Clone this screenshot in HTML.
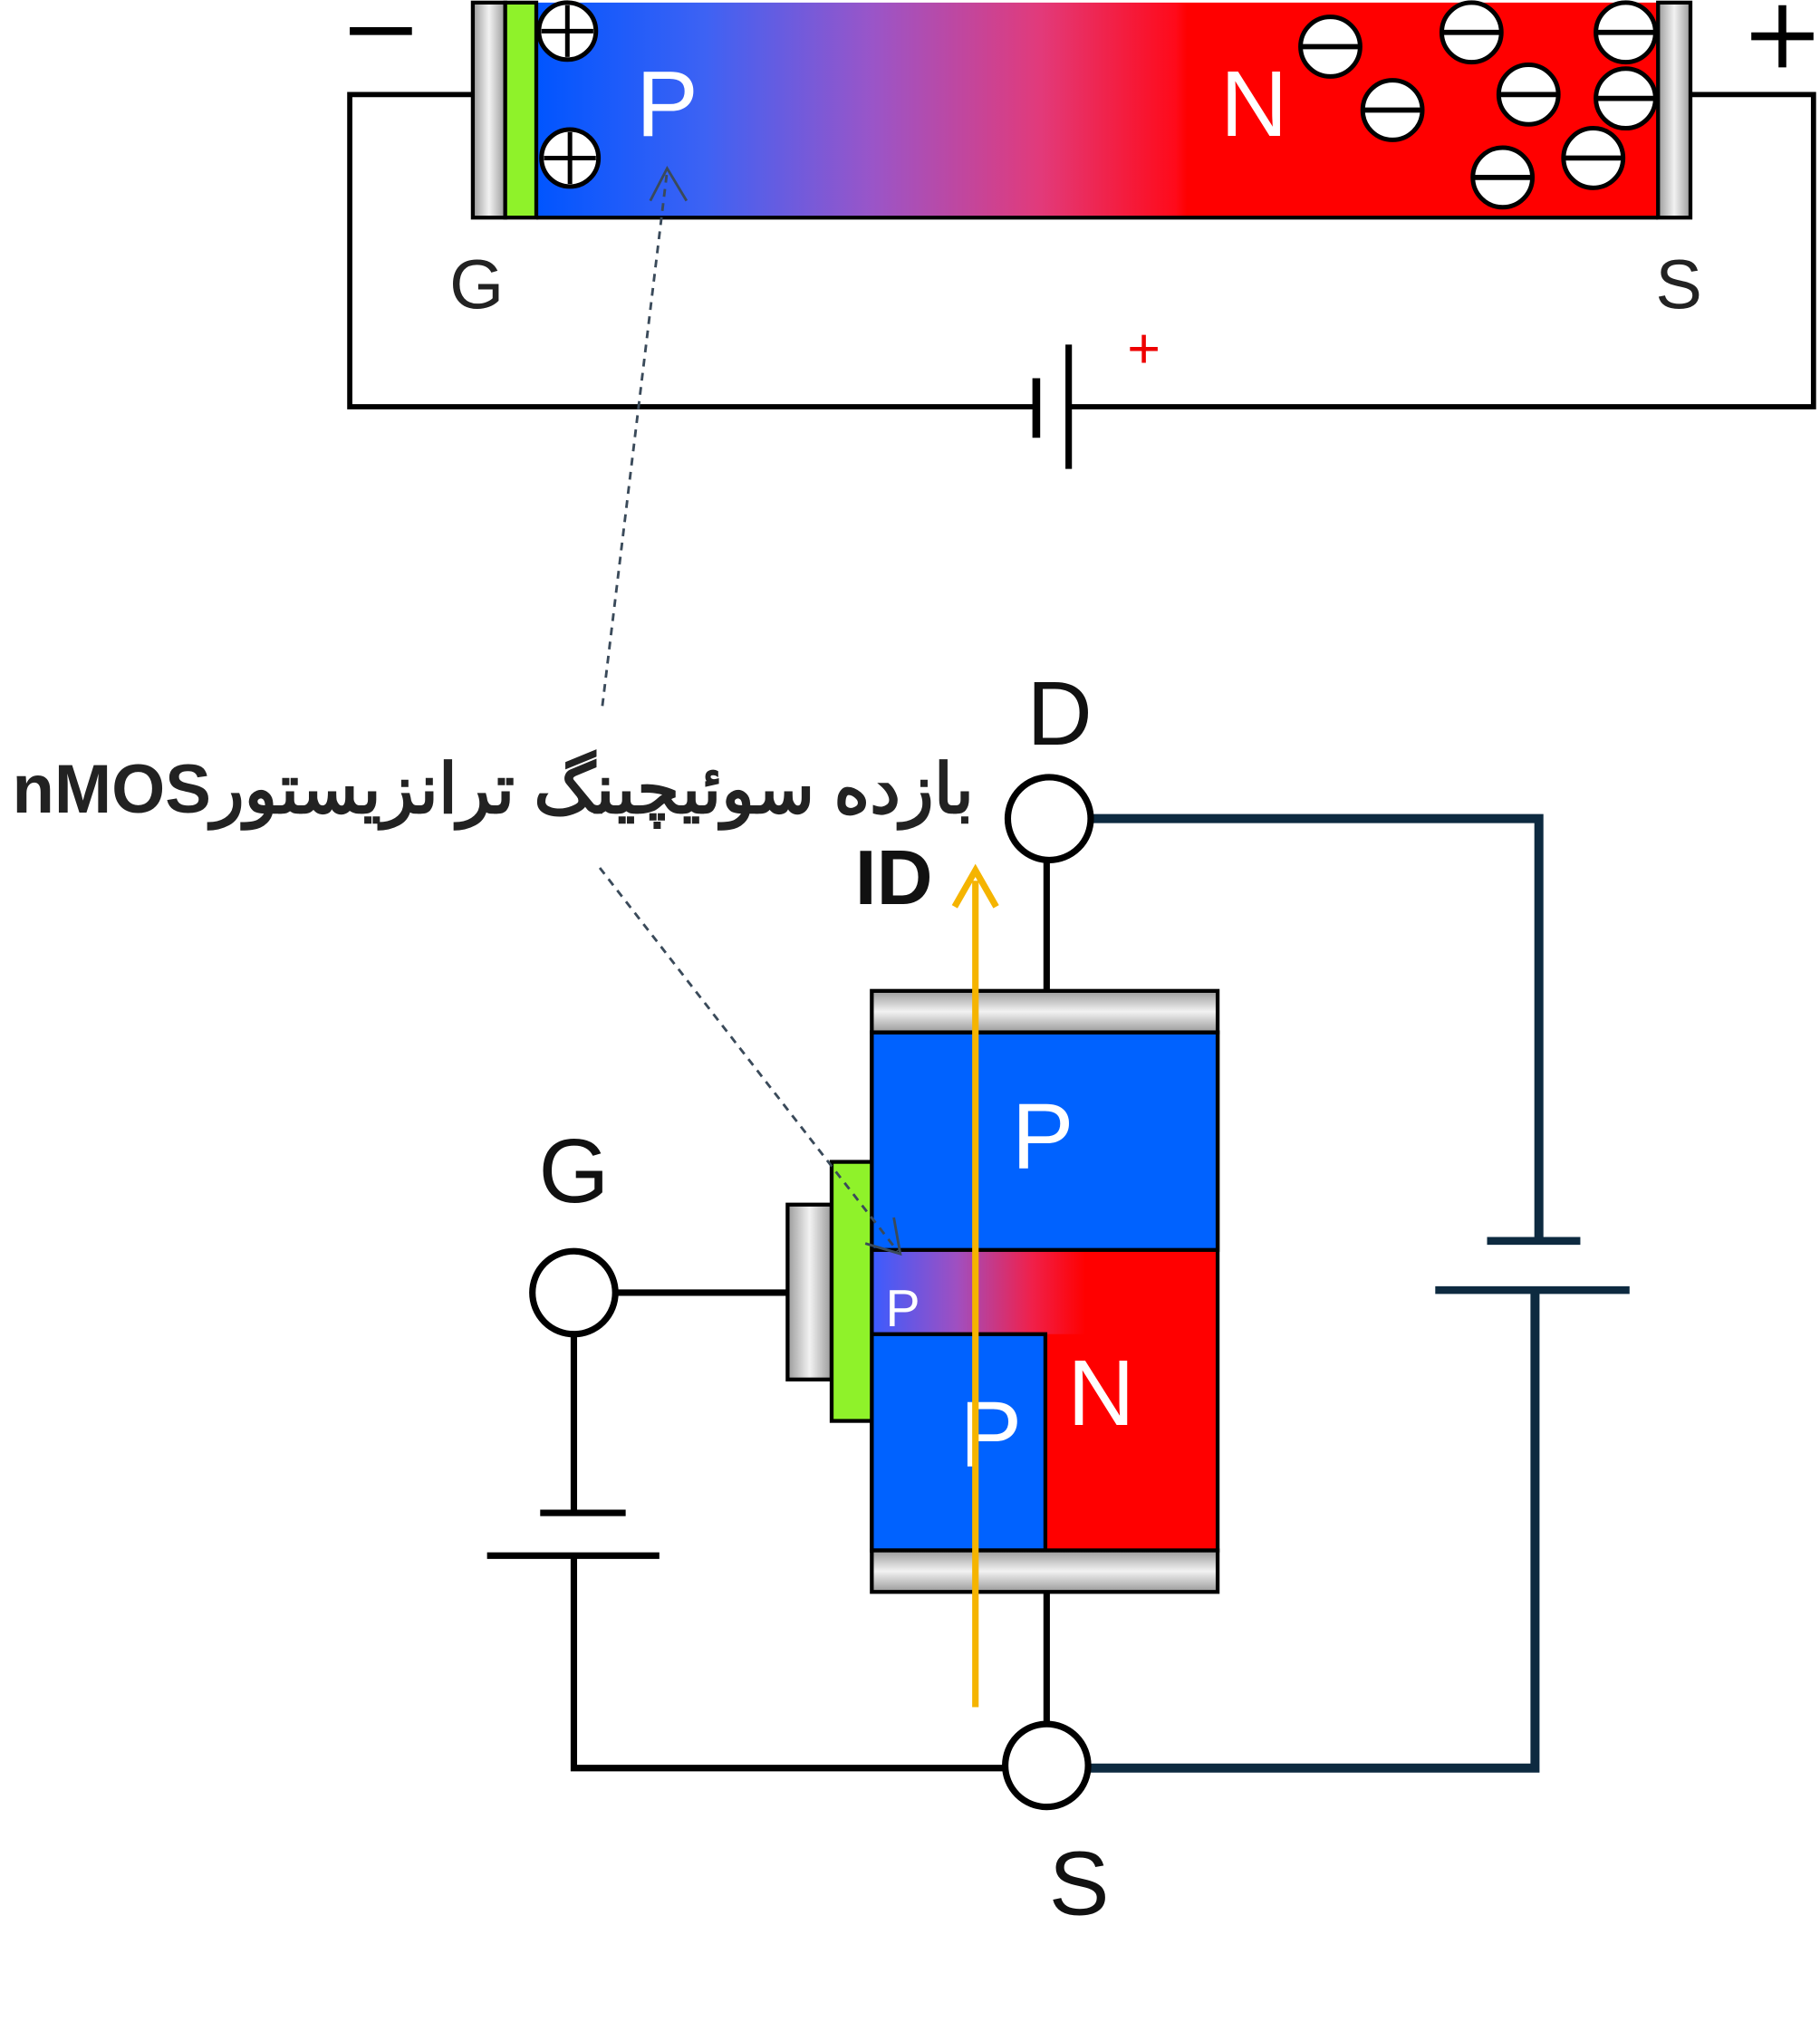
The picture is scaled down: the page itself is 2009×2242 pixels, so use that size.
<!DOCTYPE html>
<html><head><meta charset="utf-8">
<style>
html,body{margin:0;padding:0;background:#fff;}
body{width:2009px;height:2242px;position:relative;overflow:hidden;}
svg{position:absolute;left:0;top:0;}
.title{position:absolute;right:934px;top:826px;font-family:"Liberation Sans","Noto Sans CJK SC",sans-serif;font-weight:bold;font-size:76px;color:#222;white-space:nowrap;direction:rtl;}
</style></head>
<body>
<svg width="2009" height="2242" viewBox="0 0 1405 1568" xmlns="http://www.w3.org/2000/svg" font-family="Liberation Sans, DejaVu Sans, sans-serif">
<defs>
<linearGradient id="gTop" x1="0" x2="1" y1="0" y2="0">
<stop offset="0" stop-color="#0055ff"/>
<stop offset="0.15" stop-color="#3d62f4"/>
<stop offset="0.3" stop-color="#9a55c8"/>
<stop offset="0.45" stop-color="#e23a7a"/>
<stop offset="0.57" stop-color="#ff0a1a"/>
<stop offset="0.58" stop-color="#ff0000"/>
<stop offset="1" stop-color="#ff0000"/>
</linearGradient>
<linearGradient id="gMid" x1="0" x2="1" y1="0" y2="0">
<stop offset="0" stop-color="#3a5cff"/>
<stop offset="0.4" stop-color="#a04fc0"/>
<stop offset="0.75" stop-color="#f0204a"/>
<stop offset="1" stop-color="#ff0000"/>
</linearGradient>
<linearGradient id="gray" x1="0" x2="1" y1="0" y2="0">
<stop offset="0" stop-color="#9a9a9a"/><stop offset="0.5" stop-color="#f2f2f2"/><stop offset="1" stop-color="#9a9a9a"/>
</linearGradient>
<linearGradient id="grayV" x1="0" x2="0" y1="0" y2="1">
<stop offset="0" stop-color="#9a9a9a"/><stop offset="0.5" stop-color="#f2f2f2"/><stop offset="1" stop-color="#9a9a9a"/>
</linearGradient>
</defs>

<!-- TOP -->
<g stroke="#000" stroke-width="4" fill="none">
<polyline points="365,73 270,73 270,314 800,314"/>
<polyline points="825,314 1400,314 1400,73 1305,73"/>
</g>
<line x1="800" y1="292" x2="800" y2="338" stroke="#000" stroke-width="6"/>
<line x1="825" y1="266" x2="825" y2="362" stroke="#000" stroke-width="5"/>
<text x="883" y="284" font-size="44" fill="#e00" text-anchor="middle">+</text>
<rect x="414" y="2" width="866" height="166" fill="url(#gTop)"/>
<rect x="365" y="2" width="25" height="166" fill="url(#gray)" stroke="#000" stroke-width="3"/>
<rect x="390" y="2" width="24" height="166" fill="#8ff22a" stroke="#000" stroke-width="3"/>
<rect x="1280" y="2" width="25" height="166" fill="url(#gray)" stroke="#000" stroke-width="3"/>
<line x1="414" y1="168" x2="1280" y2="168" stroke="#000" stroke-width="3"/>
<line x1="270" y1="24" x2="318" y2="24" stroke="#000" stroke-width="6"/>
<line x1="1352" y1="28" x2="1400" y2="28" stroke="#000" stroke-width="6"/>
<line x1="1376" y1="4" x2="1376" y2="52" stroke="#000" stroke-width="6"/>
<text x="368" y="238" font-size="54" text-anchor="middle" fill="#222">G</text>
<text x="1296" y="238" font-size="54" text-anchor="middle" fill="#222">S</text>
<text x="515" y="105" font-size="72" text-anchor="middle" fill="#fff">P</text>
<text x="968" y="105" font-size="72" text-anchor="middle" fill="#fff">N</text>
<g stroke="#000" stroke-width="3.5" fill="#fff">
<circle cx="438" cy="24" r="22"/><circle cx="440" cy="122" r="22"/>
</g>
<g stroke="#000" stroke-width="3.5">
<line x1="418" y1="24" x2="458" y2="24"/><line x1="438" y1="4" x2="438" y2="44"/>
<line x1="420" y1="122" x2="460" y2="122"/><line x1="440" y1="102" x2="440" y2="142"/>
</g>
<g stroke="#000" stroke-width="3.5" fill="#fff">
<circle cx="1027" cy="36" r="23"/><circle cx="1136" cy="25" r="23"/><circle cx="1255" cy="25" r="23"/>
<circle cx="1075" cy="85" r="23"/><circle cx="1180" cy="73" r="23"/><circle cx="1255" cy="76" r="23"/>
<circle cx="1230" cy="122" r="23"/><circle cx="1160" cy="137" r="23"/>
</g>
<g stroke="#000" stroke-width="4">
<line x1="1005" y1="36" x2="1049" y2="36"/><line x1="1114" y1="25" x2="1158" y2="25"/><line x1="1233" y1="25" x2="1277" y2="25"/>
<line x1="1053" y1="85" x2="1097" y2="85"/><line x1="1158" y1="73" x2="1202" y2="73"/><line x1="1233" y1="76" x2="1277" y2="76"/>
<line x1="1208" y1="122" x2="1252" y2="122"/><line x1="1138" y1="137" x2="1182" y2="137"/>
</g>

<!-- BOTTOM circuit -->
<g stroke="#0d2a40" stroke-width="7" fill="none">
<polyline points="842,632 1188,632 1188,958"/>
<polyline points="1185,996 1185,1365 840,1365"/>
</g>
<line x1="1148" y1="958" x2="1220" y2="958" stroke="#0d2a40" stroke-width="6"/>
<line x1="1108" y1="996" x2="1258" y2="996" stroke="#0d2a40" stroke-width="6"/>
<g stroke="#000" stroke-width="5" fill="none">
<line x1="808" y1="664" x2="808" y2="765"/>
<line x1="808" y1="1229" x2="808" y2="1331"/>
<line x1="476" y1="998" x2="608" y2="998"/>
<polyline points="443,1030 443,1168"/>
<polyline points="443,1201 443,1365 776,1365"/>
<line x1="417" y1="1168" x2="483" y2="1168"/>
<line x1="376" y1="1201" x2="509" y2="1201"/>
</g>

<!-- device -->
<rect x="673" y="965" width="267" height="232" fill="#ff0000"/>
<rect x="673" y="965" width="165" height="65" fill="url(#gMid)"/>
<rect x="673" y="797" width="267" height="168" fill="#0062ff" stroke="#000" stroke-width="3"/>
<rect x="673" y="1030" width="134" height="167" fill="#0062ff" stroke="#000" stroke-width="3"/>
<rect x="673" y="797" width="267" height="400" fill="none" stroke="#000" stroke-width="3"/>
<rect x="673" y="765" width="267" height="32" fill="url(#grayV)" stroke="#000" stroke-width="3"/>
<rect x="673" y="1197" width="267" height="32" fill="url(#grayV)" stroke="#000" stroke-width="3"/>
<rect x="608" y="930" width="34" height="135" fill="url(#gray)" stroke="#000" stroke-width="3"/>
<rect x="642" y="897" width="31" height="200" fill="#8ff22a" stroke="#000" stroke-width="3"/>
<text x="805" y="902" font-size="72" text-anchor="middle" fill="#fff">P</text>
<text x="697" y="1024" font-size="40" text-anchor="middle" fill="#fff">P</text>
<text x="765" y="1132" font-size="72" text-anchor="middle" fill="#fff">P</text>
<text x="850" y="1100" font-size="72" text-anchor="middle" fill="#fff">N</text>

<!-- dashed arrows -->
<g stroke="#3a4a5a" stroke-width="2" fill="none">
<line x1="465" y1="545" x2="515" y2="132" stroke-dasharray="6,5"/>
<polyline points="502,155 515,130 530,155"/>
<line x1="463" y1="670" x2="693" y2="966" stroke-dasharray="6,5"/>
<polyline points="668,960 695,968 690,940"/>
</g>

<!-- orange arrow -->
<line x1="753" y1="1318" x2="753" y2="680" stroke="#f5b400" stroke-width="5"/>
<polyline points="737,700 753,672 769,700" stroke="#f5b400" stroke-width="5" fill="none"/>
<text x="690" y="698" font-size="60" text-anchor="middle" fill="#111" font-weight="bold">ID</text>

<!-- terminals -->
<g stroke="#000" stroke-width="5" fill="#fff">
<circle cx="810" cy="632" r="32"/>
<circle cx="808" cy="1363" r="32"/>
<circle cx="443" cy="998" r="32"/>
</g>
<text x="818" y="575" font-size="70" text-anchor="middle" fill="#111">D</text>
<text x="833" y="1478" font-size="70" text-anchor="middle" fill="#111">S</text>
<text x="443" y="928" font-size="70" text-anchor="middle" fill="#111">G</text>
</svg>
<div class="title">بازده سوئیچینگ ترانزیستورnMOS</div>
</body></html>
